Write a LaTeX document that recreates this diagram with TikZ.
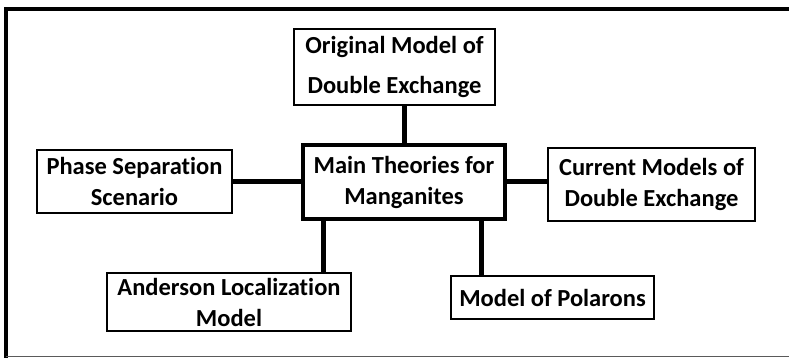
\documentclass[tikz,border=0pt]{standalone}
\usepackage{fontspec}
\setmainfont{Carlito}[Ligatures=NoCommon]
\usetikzlibrary{positioning}
\definecolor{framegray}{RGB}{90,90,90}

\begin{document}
\begin{tikzpicture}[
    x=1pt, y=-1pt,
    box/.style={rectangle, draw=black, line width=1.5pt, fill=white, align=center, inner sep=0pt, font=\bfseries\fontsize{24.5}{31}\selectfont},
    mainbox/.style={box, line width=4pt},
    link/.style={line width=5pt, black}
  ]
    \useasboundingbox (0,0) rectangle (789,358);
    \draw[line width=4pt] (789,9) -- (6,9) -- (6,358);
    \draw[framegray, line width=1.2pt] (6,356.5) -- (789,356.5);
    \node[mainbox, minimum width=202pt, minimum height=74pt] (main) at (404,182) {Main Theories for\\Manganites};
    \node[box, font=\bfseries\fontsize{24.5}{40}\selectfont, minimum width=201pt, minimum height=76pt] (orig) at (394.5,67) {Original Model of\\Double Exchange};
    \node[box, minimum width=195pt, minimum height=63pt] (phase) at (134.5,181.5) {Phase Separation\\Scenario};
    \node[box, minimum width=207pt, minimum height=73pt] (current) at (651.5,184.5) {Current Models of\\Double Exchange};
    \node[box, minimum width=244pt, minimum height=58pt] (anderson) at (229,302) {Anderson Localization\\Model};
    \node[box, minimum width=203pt, minimum height=43pt] (polarons) at (552.5,297.5) {Model of Polarons};
    \draw[link] (orig.south -| main) -- (main.north);
    \draw[link] (phase.east |- main) -- (main.west);
    \draw[link] (main.east) -- (main.east -| current.west);
    \draw[link] ([xshift=-81pt]main.south) -- ([xshift=-81pt]main.south |- anderson.north);
    \draw[link] ([xshift=77pt]main.south) -- ([xshift=77pt]main.south |- polarons.north);
  \end{tikzpicture}
\end{document}
